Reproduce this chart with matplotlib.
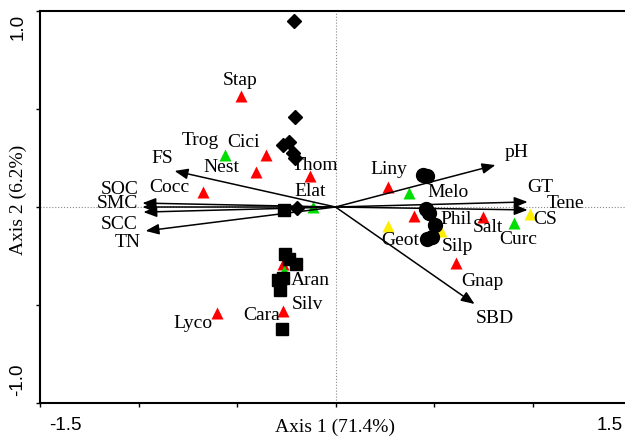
import matplotlib
matplotlib.use("Agg")
import matplotlib.pyplot as plt

# species (triangles): name, axis 1, axis 2, group colour
species = ["Stap", "Trog", "Cici", "Nest", "Thom", "Cocc", "Elat", "Liny", "Melo", "Phil",
           "Salt", "Curc", "Tene", "Geot", "Silp", "Gnap", "Lyco", "Cara", "Aran", "Silv"]
sp_x = [-0.482, -0.563, -0.355, -0.406, -0.127, -0.675, -0.112, 0.264, 0.371, 0.396,
        0.751, 0.904, 0.985, 0.269, 0.538, 0.614, -0.599, -0.269, -0.264, -0.259]
sp_y = [0.566, 0.265, 0.265, 0.179, 0.158, 0.077, 0.0, 0.102, 0.071, -0.046,
        -0.051, -0.082, -0.036, -0.097, -0.122, -0.286, -0.541, -0.531, -0.291, -0.327]
sp_group = ["r", "g", "r", "r", "r", "r", "g", "r", "g", "r",
            "r", "g", "y", "y", "y", "r", "r", "r", "r", "g"]

# environmental variables (arrows)
env = ["pH", "GT", "CS", "SBD", "FS", "SOC", "SMC", "SCC", "TN"]
env_x = [0.812, 0.975, 0.975, 0.706, -0.817, -0.980, -0.980, -0.975, -0.964]
env_y = [0.214, 0.026, -0.015, -0.495, 0.184, 0.020, 0.0, -0.026, -0.122]

# samples
diam_x = [-0.213, -0.208, -0.269, -0.234, -0.218, -0.208, -0.193]
diam_y = [0.949, 0.459, 0.316, 0.332, 0.276, 0.250, -0.005]
sq_x = [-0.259, -0.254, -0.234, -0.198, -0.294, -0.264, -0.284, -0.274]
sq_y = [-0.015, -0.240, -0.265, -0.291, -0.372, -0.362, -0.423, -0.622]
circ_x = [0.442, 0.467, 0.457, 0.477, 0.503, 0.462, 0.492]
circ_y = [0.163, 0.158, -0.010, -0.031, -0.092, -0.163, -0.153]

colours = {"r": "#ff0000", "g": "#00dd00", "y": "#ffee00"}

# label offsets in pixels (dx, dy up)
sp_off = {"Stap": (0, 16), "Trog": (-24, 15), "Cici": (-22, 13), "Nest": (-34, 4),
          "Thom": (5, 11), "Cocc": (-33, 4), "Elat": (-3, 15), "Liny": (1, 18),
          "Melo": (39, 1), "Phil": (43, -3), "Salt": (4, -11), "Curc": (5, -16),
          "Tene": (36, 11), "Geot": (12, -14), "Silp": (16, -16), "Gnap": (26, -18),
          "Lyco": (-25, -10), "Cara": (-21, -4), "Aran": (27, -16), "Silv": (23, -33)}
env_off = {"pH": (21, 13), "GT": (13, 14), "CS": (18, -10), "SBD": (20, -14),
           "FS": (-12, 12), "SOC": (-23, 14), "SMC": (-25, 3), "SCC": (-24, -12),
           "TN": (-18, -12)}

serif = "Liberation Serif"
sans = "Liberation Sans"

fig = plt.figure(figsize=(6.25, 4.37), dpi=100)
ax = fig.add_axes([40 / 625, 34 / 437, 591 / 625, 392 / 437])
ax.set_xlim(-1.5, 1.5)
ax.set_ylim(-1.0, 1.0)

ax.axhline(0, color="#888888", lw=0.8, ls=":", zorder=1)
ax.axvline(0, color="#888888", lw=0.8, ls=":", zorder=1)

# species
for n, x, y, g in zip(species, sp_x, sp_y, sp_group):
    ax.plot(x, y, "^", color=colours[g], ms=8.5, mec="none", zorder=2)
    dx, dy = sp_off[n]
    ax.annotate(n, (x, y), xytext=(dx, dy), textcoords="offset pixels",
                ha="center", va="center", fontsize=14, family=serif, zorder=5)

# arrows
for n, x, y in zip(env, env_x, env_y):
    ax.annotate("", xy=(x, y), xytext=(0, 0),
                arrowprops=dict(arrowstyle="-|>,head_length=0.5,head_width=0.2",
                                color="black", lw=1.1,
                                mutation_scale=16, shrinkA=0, shrinkB=0), zorder=3)
    dx, dy = env_off[n]
    ax.annotate(n, (x, y), xytext=(dx, dy), textcoords="offset pixels",
                ha="center", va="center", fontsize=14, family=serif, zorder=5)

# samples
ax.plot(diam_x, diam_y, "D", color="black", ms=7.5, ls="none", zorder=4)
ax.plot(sq_x, sq_y, "s", color="black", ms=8.5, ls="none", zorder=4)
ax.plot(circ_x, circ_y, "o", color="black", ms=10, ls="none", zorder=4)

for s in ["left", "bottom", "top"]:
    ax.spines[s].set_linewidth(1.5)
ax.spines["right"].set_visible(False)

ax.set_xticks([-1.5, -1.0, -0.5, 0, 0.5, 1.0, 1.5])
ax.set_yticks([-1.0, -0.5, 0, 0.5, 1.0])
ax.set_xticklabels([])
ax.set_yticklabels([])
ax.tick_params(direction="out", length=3, width=1)

# end tick labels, set inward from the ticks
fig.text(65 / 625, 1 - 426 / 437, "-1.5", ha="center", va="center", fontsize=13.5, family=sans)
fig.text(610 / 625, 1 - 426 / 437, "1.5", ha="center", va="center", fontsize=13.5, family=sans)
fig.text(18 / 625, 1 - 27 / 437, "1.0", ha="center", va="center", fontsize=13.5,
         family=sans, rotation=90)
fig.text(18 / 625, 1 - 380 / 437, "-1.0", ha="center", va="center", fontsize=13.5,
         family=sans, rotation=90)

fig.text(335 / 625, 1 - 427 / 437, "Axis 1 (71.4%)", ha="center", va="center",
         fontsize=14, family=serif)
fig.text(18 / 625, 1 - 200 / 437, "Axis 2 (6.2%)", ha="center", va="center",
         fontsize=14, family=serif, rotation=90)

fig.savefig("out.png", dpi=100)
